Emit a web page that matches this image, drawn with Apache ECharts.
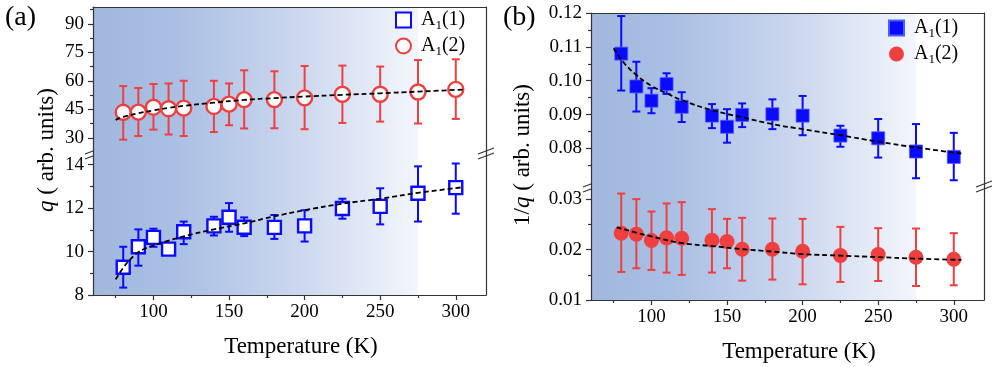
<!DOCTYPE html>
<html>
<head>
<meta charset="utf-8">
<script src="https://cdn.jsdelivr.net/npm/echarts@6/dist/echarts.min.js"></script>
<style>
  html, body { margin: 0; padding: 0; background: #fff; }
  #chart { width: 996px; height: 367px; }
</style>
</head>
<body>
<div id="chart"></div>
<script>
// temperatures (K)
const temps = [80, 90, 100, 110, 120, 140, 150, 160, 180, 200, 225, 250, 275, 300]

// panel (a): q
const qA1 = [9.28, 10.22, 10.65, 10.11, 10.91, 11.18, 11.58, 11.12, 11.11, 11.18, 11.98, 12.08, 12.68, 12.94]
const qA1Lo = [8.34, 9.35, 10.22, 9.99, 10.34, 10.74, 10.91, 10.71, 10.58, 10.46, 11.51, 11.25, 11.38, 11.74]
const qA1Hi = [10.22, 11.02, 11.05, 10.23, 11.38, 11.6, 12.23, 11.57, 11.68, 11.9, 12.43, 12.91, 13.92, 14.05]
const qA2 = [43.4, 43.5, 46.1, 45.3, 45.6, 46.5, 47.7, 50.1, 50.1, 51.0, 52.9, 52.9, 54.1, 55.5]
const qA2Lo = [29.0, 30.9, 34.3, 31.7, 30.9, 33.0, 36.6, 34.9, 35.0, 34.5, 37.8, 38.5, 37.5, 39.9]
const qA2Hi = [57.2, 56.2, 58.3, 58.6, 60.0, 60.0, 58.6, 65.5, 65.0, 67.8, 68.0, 67.5, 70.9, 71.3]

const fitQA1T = [75, 80, 85, 90, 95, 100, 110, 120, 140, 160, 180, 200, 225, 250, 275, 305]
const fitQA1 = [8.72, 9.25, 9.66, 9.97, 10.15, 10.28, 10.5, 10.7, 11.02, 11.3, 11.62, 11.9, 12.2, 12.43, 12.7, 12.96]
const fitQA2T = [75, 80, 90, 100, 110, 120, 140, 160, 180, 200, 225, 250, 275, 305]
const fitQA2 = [39.4, 41.0, 42.9, 44.4, 45.7, 46.8, 48.5, 49.9, 50.9, 51.7, 52.6, 53.4, 54.3, 55.4]

// panel (b): 1/q
const invA1 = [0.108, 0.0983, 0.0941, 0.099, 0.0923, 0.0897, 0.0864, 0.0899, 0.0901, 0.0897, 0.0838, 0.083, 0.0791, 0.0775]
const invA1Lo = [0.0971, 0.0909, 0.0904, 0.0961, 0.0878, 0.086, 0.0817, 0.0863, 0.0857, 0.0839, 0.0805, 0.0773, 0.0712, 0.0706]
const invA1Hi = [0.1191, 0.1056, 0.0978, 0.1022, 0.0966, 0.0931, 0.0916, 0.0933, 0.0945, 0.0955, 0.0867, 0.0887, 0.0872, 0.0846]
const invA2 = [0.02325, 0.02305, 0.02179, 0.02232, 0.02225, 0.02185, 0.02159, 0.02007, 0.02007, 0.01967, 0.01881, 0.01901, 0.01848, 0.01808]
const invA2Lo = [0.01556, 0.01629, 0.01596, 0.01543, 0.01497, 0.01543, 0.01629, 0.01384, 0.01404, 0.01311, 0.01358, 0.01377, 0.01278, 0.01291]
const invA2Hi = [0.0311, 0.03, 0.02755, 0.02914, 0.0294, 0.02801, 0.02609, 0.02629, 0.02616, 0.02609, 0.0245, 0.02424, 0.02417, 0.02325]

const fitInvA1T = [75, 81, 90, 100, 110, 120, 140, 160, 180, 200, 225, 250, 275, 305]
const fitInvA1 = [0.1096, 0.1057, 0.1017, 0.0985, 0.0963, 0.0943, 0.0913, 0.0892, 0.0872, 0.0857, 0.0839, 0.082, 0.0803, 0.0785]
const fitInvA2T = [77, 100, 120, 140, 160, 180, 200, 225, 250, 275, 305]
const fitInvA2 = [0.0244, 0.0226, 0.0213, 0.0207, 0.0201, 0.0196, 0.0191, 0.0188, 0.0185, 0.0182, 0.01795]

// shaded temperature range
const shadeRange = [60, 275]

// ticks
const xMajor = [100, 150, 200, 250, 300]
const xMinor = [75, 125, 175, 225, 275]
const qUpMajor = [30, 45, 60, 75, 90]
const qUpMinor = [37.5, 52.5, 67.5, 82.5, 97.5]
const qLoMajor = [8, 10, 12, 14]
const qLoMinor = [9, 11, 13]
const invUpMajor = [0.08, 0.09, 0.10, 0.11, 0.12]
const invUpMinor = [0.075, 0.085, 0.095, 0.105, 0.115]
const invLoMajor = [0.01, 0.02, 0.03]
const invLoMinor = [0.015, 0.025]

const FONT = '"Liberation Serif", "DejaVu Serif", serif'
const AX = '#333'
const BLUE = '#0a0aff'
const RED = '#ef3f3f'

const chart = echarts.init(document.getElementById('chart'))

const shadeFill = new echarts.graphic.LinearGradient(0, 0, 1, 0, [
  { offset: 0, color: '#a2b7dc' },
  { offset: 0.25, color: '#aabfe4' },
  { offset: 0.6, color: '#c8d5ed' },
  { offset: 1, color: '#f3f6fc' }
])

function shadeItem (params, api) {
  const p0 = api.coord([api.value(0), api.value(1)])
  const p1 = api.coord([api.value(1), api.value(1)])
  const cs = params.coordSys
  return {
    type: 'rect',
    shape: { x: p0[0], y: cs.y, width: p1[0] - p0[0], height: cs.height },
    style: { fill: shadeFill }
  }
}

function errItem (params, api) {
  const x = api.value(0)
  const lo = api.coord([x, api.value(1)])
  const hi = api.coord([x, api.value(2)])
  const half = 4
  const style = { stroke: api.visual('color'), lineWidth: 2 }
  return {
    type: 'group',
    children: [
      { type: 'line', shape: { x1: lo[0], y1: lo[1], x2: hi[0], y2: hi[1] }, style },
      { type: 'line', shape: { x1: lo[0] - half, y1: lo[1], x2: lo[0] + half, y2: lo[1] }, style },
      { type: 'line', shape: { x1: hi[0] - half, y1: hi[1], x2: hi[0] + half, y2: hi[1] }, style }
    ]
  }
}

const grids = [
  { left: 93, top: 7, width: 393, height: 145 },
  { left: 93, top: 152, width: 393, height: 143 },
  { left: 591, top: 13, width: 393, height: 172 },
  { left: 591, top: 185, width: 393, height: 115 }
]

const labelStyle = { color: '#000', fontFamily: FONT, fontSize: 19 }

function frameX (grid) {
  return {
    type: 'value', gridIndex: grid, position: 'top', min: 60, max: 320, z: 5,
    axisLine: { show: true, lineStyle: { color: AX, width: 1.2 } },
    axisTick: { show: false }, axisLabel: { show: false }, splitLine: { show: false }
  }
}
function majorX (grid) {
  return {
    type: 'value', gridIndex: grid, position: 'bottom', min: 60, max: 320, z: 5,
    axisLine: { show: true, lineStyle: { color: AX, width: 1.2 } },
    axisTick: { show: true, length: 5, customValues: xMajor, lineStyle: { color: AX, width: 1.2 } },
    axisLabel: Object.assign({ customValues: xMajor, margin: 8 }, labelStyle),
    splitLine: { show: false }
  }
}
function minorX (grid) {
  return {
    type: 'value', gridIndex: grid, position: 'bottom', min: 60, max: 320, z: 5,
    axisLine: { show: false },
    axisTick: { show: true, length: 3, customValues: xMinor, lineStyle: { color: AX, width: 1.2 } },
    axisLabel: { show: false }, splitLine: { show: false }
  }
}
function majorY (grid, min, max, ticks, fmt) {
  return {
    type: 'value', gridIndex: grid, position: 'left', min, max, z: 5,
    axisLine: { show: true, lineStyle: { color: AX, width: 1.2 } },
    axisTick: { show: true, length: 5, customValues: ticks, lineStyle: { color: AX, width: 1.2 } },
    axisLabel: Object.assign({ customValues: ticks, margin: 9, formatter: fmt }, labelStyle),
    splitLine: { show: false }
  }
}
function minorY (grid, min, max, ticks) {
  return {
    type: 'value', gridIndex: grid, position: 'left', min, max, z: 5,
    axisLine: { show: false },
    axisTick: { show: true, length: 3, customValues: ticks, lineStyle: { color: AX, width: 1.2 } },
    axisLabel: { show: false }, splitLine: { show: false }
  }
}
function frameY (grid, min, max) {
  return {
    type: 'value', gridIndex: grid, position: 'right', min, max, z: 5,
    axisLine: { show: true, lineStyle: { color: AX, width: 1.2 } },
    axisTick: { show: false }, axisLabel: { show: false }, splitLine: { show: false }
  }
}

const intFmt = v => String(v)
const decFmt = v => v.toFixed(2)

const ranges = [
  [22.5, 98.85],
  [8, 14.58],
  [0.0692, 0.12],
  [0.01, 0.0328]
]

const xAxis = [frameX(0), majorX(1), minorX(1), frameX(2), majorX(3), minorX(3)]
const yAxis = [
  majorY(0, ranges[0][0], ranges[0][1], qUpMajor, intFmt), minorY(0, ranges[0][0], ranges[0][1], qUpMinor), frameY(0, ranges[0][0], ranges[0][1]),
  majorY(1, ranges[1][0], ranges[1][1], qLoMajor, intFmt), minorY(1, ranges[1][0], ranges[1][1], qLoMinor), frameY(1, ranges[1][0], ranges[1][1]),
  majorY(2, ranges[2][0], ranges[2][1], invUpMajor, decFmt), minorY(2, ranges[2][0], ranges[2][1], invUpMinor), frameY(2, ranges[2][0], ranges[2][1]),
  majorY(3, ranges[3][0], ranges[3][1], invLoMajor, decFmt), minorY(3, ranges[3][0], ranges[3][1], invLoMinor), frameY(3, ranges[3][0], ranges[3][1])
]

function shadeSeries (xi, yi) {
  return {
    type: 'custom', xAxisIndex: xi, yAxisIndex: yi, z: 0, silent: true,
    renderItem: shadeItem, data: [shadeRange]
  }
}
function errSeries (xi, yi, lo, hi, color) {
  return {
    type: 'custom', xAxisIndex: xi, yAxisIndex: yi, z: 2, silent: true,
    itemStyle: { color },
    renderItem: errItem,
    data: temps.map((t, i) => [t, lo[i], hi[i]])
  }
}
function pointSeries (name, xi, yi, vals, symbol, size, itemStyle) {
  return {
    name, type: 'scatter', xAxisIndex: xi, yAxisIndex: yi, z: 3,
    symbol, symbolSize: size, itemStyle: Object.assign({ opacity: 1 }, itemStyle),
    data: temps.map((t, i) => [t, vals[i]])
  }
}
function fitSeries (xi, yi, ts, vals) {
  return {
    type: 'line', xAxisIndex: xi, yAxisIndex: yi, z: 4, smooth: true, showSymbol: false, silent: true,
    lineStyle: { color: '#000', width: 1.8, type: [5, 3] },
    data: ts.map((t, i) => [t, vals[i]])
  }
}

const series = [
  shadeSeries(0, 0), shadeSeries(1, 3), shadeSeries(3, 6), shadeSeries(4, 9),
  errSeries(0, 0, qA2Lo, qA2Hi, RED),
  pointSeries('qA2', 0, 0, qA2, 'circle', 15, { color: '#fff', borderColor: RED, borderWidth: 2.4 }),
  fitSeries(0, 0, fitQA2T, fitQA2),
  errSeries(1, 3, qA1Lo, qA1Hi, BLUE),
  pointSeries('qA1', 1, 3, qA1, 'rect', 13, { color: '#fff', borderColor: BLUE, borderWidth: 2.4 }),
  fitSeries(1, 3, fitQA1T, fitQA1),
  errSeries(3, 6, invA1Lo, invA1Hi, BLUE),
  pointSeries('invA1', 3, 6, invA1, 'rect', 13, { color: BLUE, borderColor: '#4a5cff', borderWidth: 0.8 }),
  fitSeries(3, 6, fitInvA1T, fitInvA1),
  errSeries(4, 9, invA2Lo, invA2Hi, RED),
  pointSeries('invA2', 4, 9, invA2, 'circle', 15, { color: RED }),
  fitSeries(4, 9, fitInvA2T, fitInvA2)
]

const legendRich = {
  n: { fontFamily: FONT, fontSize: 20, color: '#000', lineHeight: 24 },
  s: { fontFamily: FONT, fontSize: 13, color: '#000', verticalAlign: 'bottom', lineHeight: 13 }
}
const legendFmt = name => name.endsWith('1') ? '{n|A}{s|1}{n|(1)}' : '{n|A}{s|1}{n|(2)}'

function legendAt (left, top, names) {
  return {
    data: names, left, top, orient: 'vertical', itemWidth: 15, itemHeight: 15, itemGap: 4,
    selectedMode: false, formatter: legendFmt,
    textStyle: { rich: legendRich, padding: [0, 0, 0, 5] }
  }
}

function breakMark (x, y) {
  return {
    type: 'group', z: 20,
    children: [
      { type: 'polygon', shape: { points: [[x - 8, y + 2], [x + 8, y - 4], [x + 8, y + 1], [x - 8, y + 7]] }, style: { fill: '#fff' } },
      { type: 'line', shape: { x1: x - 8, y1: y + 2, x2: x + 8, y2: y - 4 }, style: { stroke: AX, lineWidth: 1.2 } },
      { type: 'line', shape: { x1: x - 8, y1: y + 7, x2: x + 8, y2: y + 1 }, style: { stroke: AX, lineWidth: 1.2 } }
    ]
  }
}

const textRich = {
  n: { fontFamily: FONT, fontSize: 23, color: '#000' },
  i: { fontFamily: FONT, fontSize: 23, color: '#000', fontStyle: 'italic' }
}

const graphic = [
  { type: 'text', left: 5, top: 4, style: { text: '(a)', fontFamily: FONT, fontSize: 28, fill: '#000' } },
  { type: 'text', left: 503, top: 4, style: { text: '(b)', fontFamily: FONT, fontSize: 28, fill: '#000' } },
  { type: 'text', x: 47, y: 150, rotation: Math.PI / 2, style: { text: '{i|q}{n| ( arb. units)}', rich: textRich, align: 'center', verticalAlign: 'middle' } },
  { type: 'text', x: 523, y: 155, rotation: Math.PI / 2, style: { text: '{n|1/}{i|q}{n| ( arb. units)}', rich: textRich, align: 'center', verticalAlign: 'middle' } },
  { type: 'text', x: 301, y: 347, style: { text: 'Temperature (K)', fontFamily: FONT, fontSize: 23, fill: '#000', align: 'center', verticalAlign: 'middle' } },
  { type: 'text', x: 799, y: 352, style: { text: 'Temperature (K)', fontFamily: FONT, fontSize: 23, fill: '#000', align: 'center', verticalAlign: 'middle' } },
  breakMark(93, 152), breakMark(486, 152), breakMark(591, 185), breakMark(984, 185)
]

chart.setOption({
  animation: false,
  grid: grids,
  xAxis,
  yAxis,
  legend: [legendAt(390, 5, ['qA1', 'qA2']), legendAt(883, 13, ['invA1', 'invA2'])],
  graphic,
  series
})
</script>
</body>
</html>
